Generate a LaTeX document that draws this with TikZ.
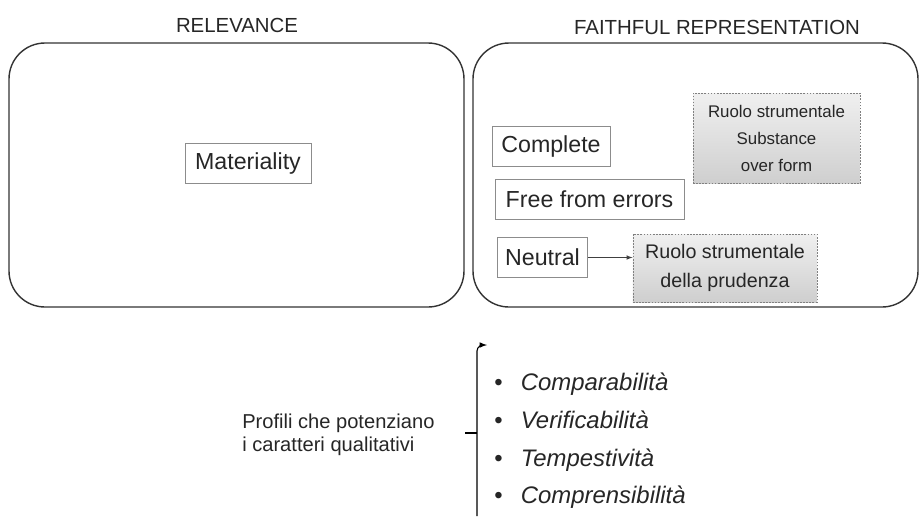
\documentclass[tikz,border=0pt]{standalone}
\usepackage{fontspec}
\setmainfont{Liberation Sans}
\usetikzlibrary{arrows}

\begin{document}
\begin{tikzpicture}[x=0.025cm, y=-0.025cm]
    %qualitative characteristics
\tikzset{
    panel/.style={line width=1pt, rounded corners=0.9cm, draw=black!80},
    charbox/.style={draw=black!45, line width=0.6pt, text=black!85, inner sep=0pt,
        font=\fontsize{16.5}{19}\selectfont},
    rolebox/.style={draw=black!50, dashed, line width=0.6pt, dash pattern=on 1.2pt off 1pt,
        top color=gray!12, bottom color=gray!38, text=black!85, inner sep=0pt, align=center},
    title/.style={text=black!85, font=\fontsize{14.5}{17}\selectfont},
    listitem/.style={anchor=west, text=black!85, inner sep=0pt, text height=12pt, text depth=4pt,
        font=\fontsize{17}{20}\selectfont}
}
    \useasboundingbox (0,0) rectangle (922,516);

    \node[title](TitleRel) at (237,25) {RELEVANCE};
    \node[title](TitleFaith) at (717,27) {FAITHFUL REPRESENTATION};
    \draw[panel] (9,43) rectangle (464,307);
    \draw[panel] (473,43) rectangle (918,307);

    \node[charbox, minimum width=3.15cm, minimum height=1cm](Materiality) at (248,163) {Materiality};
    \node[charbox, minimum width=2.95cm, minimum height=1.02cm](Complete) at (551,146.5) {Complete};
    \node[charbox, minimum width=4.72cm, minimum height=1.02cm](FreeErrors) at (589.5,199.5) {Free from errors};
    \node[charbox, minimum width=2.27cm, minimum height=1.02cm](Neutral) at (542.5,257.5) {Neutral};

    \node[rolebox, minimum width=4.17cm, minimum height=2.27cm, font=\fontsize{12}{19.5}\selectfont](Substance) at (776.5,138.5) {Ruolo strumentale\\Substance\\over form};
    \node[rolebox, minimum width=4.6cm, minimum height=1.7cm, font=\fontsize{14}{21}\selectfont](Prudenza) at (725,268) {Ruolo strumentale\\della prudenza};

    \draw[-latex, black!75, line width=0.5pt] (Neutral.east) -- (Neutral.east -| Prudenza.west);

    % profili
    \node[anchor=west, align=left, text=black!85, inner sep=0pt, font=\fontsize{14.3}{16.5}\selectfont](Profili) at (242,435) {Profili che potenziano\\i caratteri qualitativi};
    \coordinate (BraceTop) at (487,345);
    \coordinate (BraceTip) at (465,433);
    \draw[line width=0.8pt, -latex] (477,516) -- (477,351) to[out=90, in=180] (BraceTop);
    \draw[line width=0.8pt] (BraceTip) -- (BraceTip -| 477,0);

    \foreach \name/\txt/\y in {Compar/Comparabilità/385, Verif/Verificabilità/423, Tempest/Tempestività/461, Compren/Comprensibilità/498}
        \node[listitem](\name) at (494,\y) {\textbullet\hspace{13pt}\textit{\txt}};
\end{tikzpicture}
\end{document}
